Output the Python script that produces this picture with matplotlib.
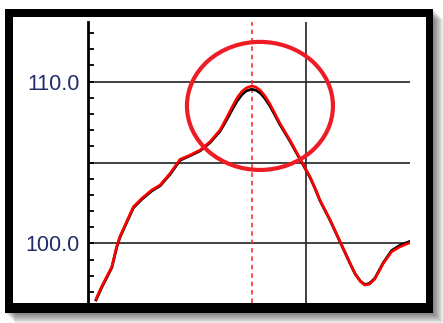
import matplotlib.pyplot as plt
from matplotlib.patches import Ellipse, Rectangle
import numpy as np

# trace samples (x in arbitrary time units, y in signal units)
x = [2.5, 4.2, 7.4, 8.9, 9.9, 12.0, 14.1, 16.7, 19.8, 22.4, 25.5, 28.6,
     31.7, 34.8, 37.9, 41.0, 43.0, 44.8, 46.3, 47.8, 49.2, 50.8, 52.2,
     53.6, 55.0, 56.5, 58.0, 59.6, 62.7, 65.8, 68.9, 70.5, 72.0, 75.2,
     78.3, 81.4, 83.0, 84.6, 86.0, 87.4, 89.1, 91.7, 94.3, 96.9, 100.0]
fit = [96.55, 97.31, 98.55, 99.79, 100.41, 101.34, 102.26, 102.78, 103.30,
       103.61, 104.33, 105.20, 105.46, 105.77, 106.29, 107.01, 107.75,
       108.45, 109.00, 109.40, 109.62, 109.73, 109.66, 109.45, 109.10,
       108.62, 108.05, 107.43, 106.39, 105.26, 104.12, 103.42, 102.68,
       101.44, 100.10, 98.76, 98.10, 97.64, 97.42, 97.48, 97.80, 98.76,
       99.48, 99.79, 100.04]
meas = [96.50, 97.25, 98.50, 99.74, 100.36, 101.29, 102.20, 102.72, 103.24,
        103.56, 104.27, 105.14, 105.42, 105.72, 106.23, 106.93, 107.62,
        108.28, 108.80, 109.20, 109.43, 109.53, 109.47, 109.28, 108.95,
        108.50, 107.95, 107.35, 106.33, 105.22, 104.10, 103.40, 102.66,
        101.42, 100.08, 98.75, 98.10, 97.66, 97.45, 97.52, 97.84, 98.80,
        99.55, 99.88, 100.12]
yticks_major = [100.0, 110.0]
grid_y = [100.0, 105.0, 110.0]
cursor_x = 67.6
peak_x = 50.8

W, H = 443, 323
fig = plt.figure(figsize=(W / 100, H / 100), dpi=100)
fig.patch.set_facecolor('white')

# drop shadow + thick black frame
for i in range(10, 0, -1):
    fig.patches.append(Rectangle(((5 + i) / W, (H - 313 - i) / H),
                                 428 / W, 304 / H,
                                 transform=fig.transFigure,
                                 facecolor='black', alpha=0.06,
                                 edgecolor='none', zorder=0))
fig.patches.append(Rectangle((5 / W, (H - 313) / H), 428 / W, 304 / H,
                             transform=fig.transFigure, facecolor='black',
                             edgecolor='none', zorder=1))
fig.patches.append(Rectangle((13 / W, (H - 303) / H), 413 / W, 286 / H,
                             transform=fig.transFigure, facecolor='white',
                             edgecolor='none', zorder=2))

ax = fig.add_axes([88 / W, (H - 303) / H, (410 - 88) / W, (303 - 22) / H])
ax.set_zorder(3)
ax.patch.set_alpha(0)
ax.set_xlim(0, 100)
ax.set_ylim(96.31, 113.69)

for s in ['top', 'right', 'bottom']:
    ax.spines[s].set_visible(False)
ax.spines['left'].set_linewidth(2.0)
ax.set_xticks([])
ax.set_yticks(yticks_major)
ax.set_yticklabels([f'{v:.1f}' for v in yticks_major])
ax.set_yticks(np.arange(97, 114, 1.0), minor=True)
ax.tick_params(axis='y', which='both', direction='in', length=4, width=1.3,
               pad=6, labelsize=15.5, labelcolor='#1f2d6b')
for lab in ax.get_yticklabels():
    lab.set_fontfamily('Liberation Sans')

for gy in grid_y:
    ax.axhline(gy, color='#222222', lw=1.2, zorder=1)
ax.axvline(cursor_x, color='#222222', lw=1.2, zorder=1)
ax.axvline(peak_x, color='#ff2020', lw=1.1, ls=(0, (3, 2.5)), zorder=1)

ax.plot(x, meas, color='black', lw=2.0, zorder=2, solid_joinstyle='round')
ax.plot(x, fit, color='#ff0000', lw=1.9, zorder=3, solid_joinstyle='round')

# highlight around the peak
ell = Ellipse((53.4, 108.5), 146 / 3.22, 128 / 16.16, fill=False,
              edgecolor='#ee1c25', lw=3.0, zorder=4)
ax.add_patch(ell)

fig.savefig('out.png', dpi=100)
